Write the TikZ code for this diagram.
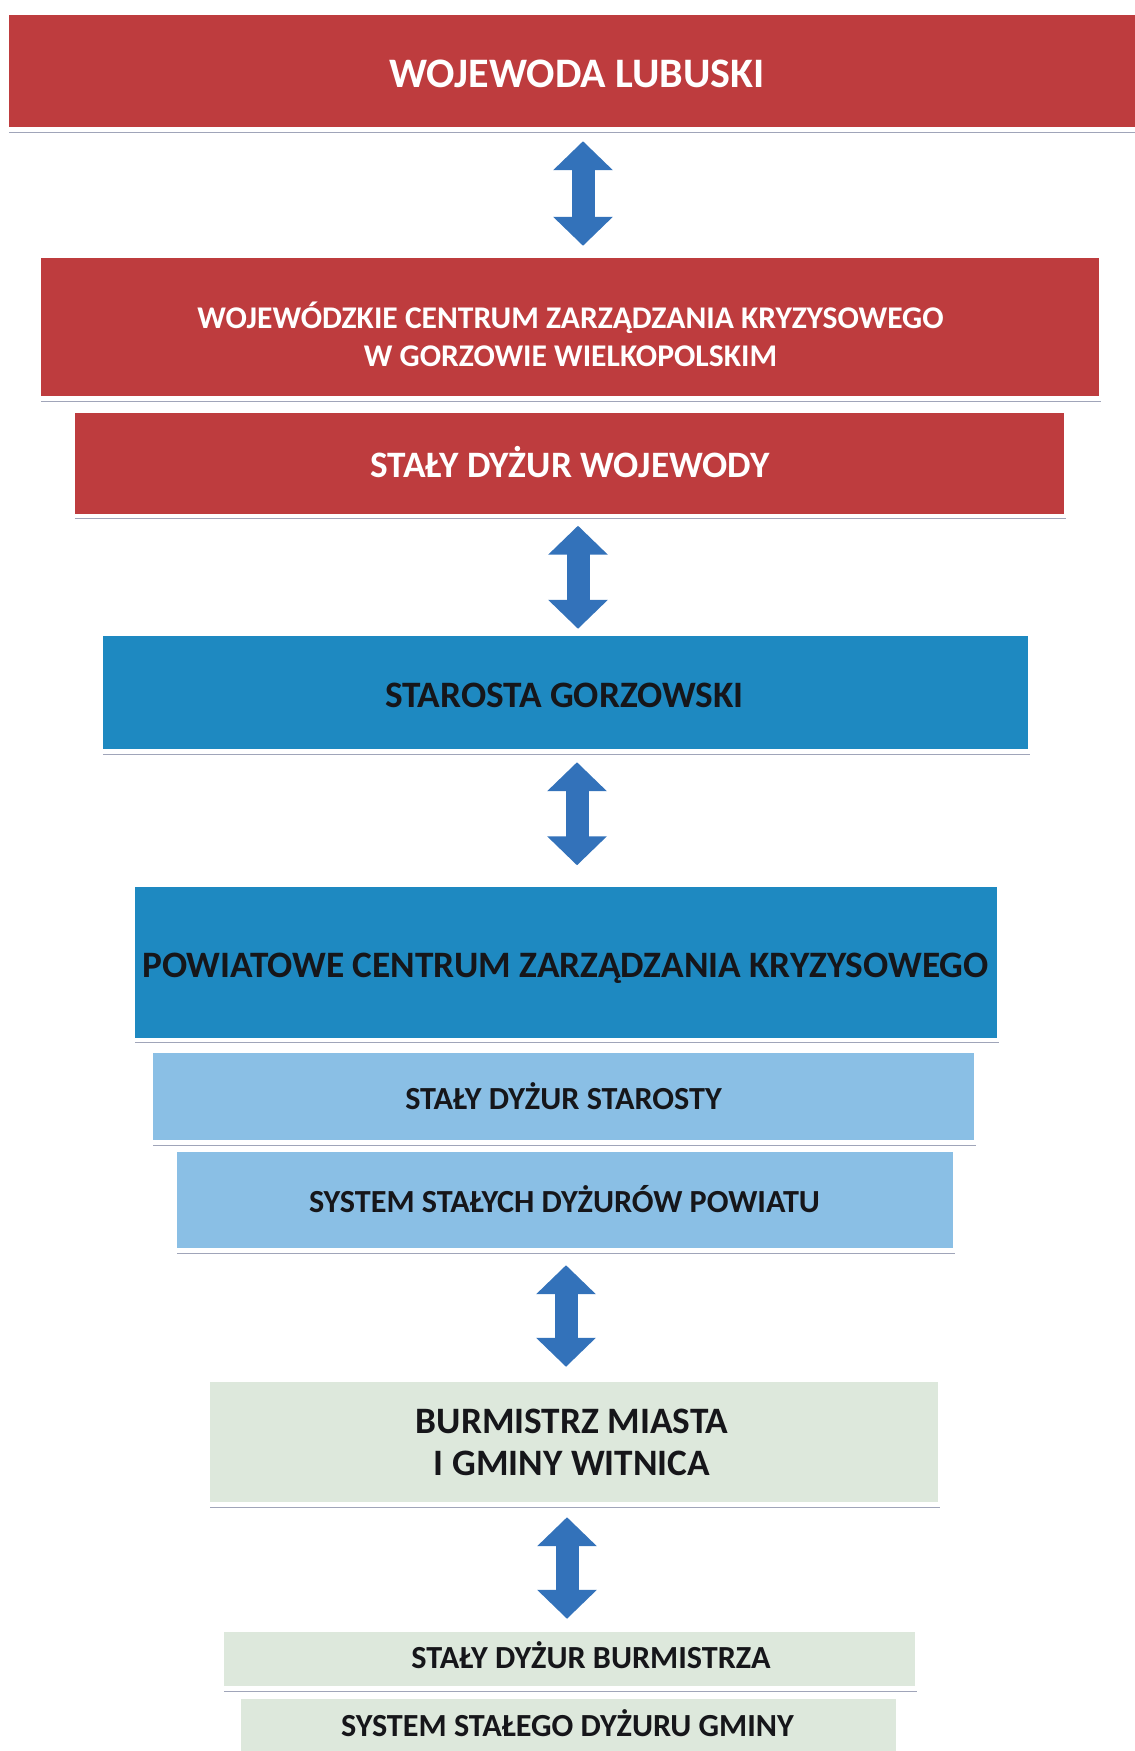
\documentclass[tikz,border=0pt]{standalone}
\usepackage{fontspec}
\setmainfont{Carlito}
\usetikzlibrary{arrows.meta}
\definecolor{cred}{RGB}{190,60,62}
\definecolor{cblue}{RGB}{30,137,193}
\definecolor{clblue}{RGB}{138,191,229}
\definecolor{cgreen}{RGB}{221,232,220}
\definecolor{carrow}{RGB}{51,114,186}
\definecolor{cshadow}{RGB}{160,165,185}
\definecolor{cdark}{RGB}{22,22,26}
\tikzset{
  box/.style={draw=none, inner sep=0pt, rectangle},
  redbox/.style={box, fill=cred},
  bluebox/.style={box, fill=cblue},
  lbluebox/.style={box, fill=clblue},
  greenbox/.style={box, fill=cgreen},
  txt/.style={anchor=base, inner sep=0pt, font=\bfseries},
  wtxt/.style={txt, text=white},
  dtxt/.style={txt, text=cdark},
  big/.style={font=\fontsize{42}{48}\bfseries\selectfont},
  mid/.style={font=\fontsize{37.3}{43}\bfseries\selectfont},
  sml/.style={font=\fontsize{32.2}{38}\bfseries\selectfont},
  shadowline/.style={draw=cshadow, line width=1.3pt},
  biarrow/.style={draw=carrow, line width=23pt,
    {Triangle[width=58pt,length=29pt]}-{Triangle[width=58pt,length=29pt]}},
}
\begin{document}
\begin{tikzpicture}[x=1pt,y=-1pt]
\useasboundingbox (0,0) rectangle (1135,1751);
% boxes
\node[redbox, minimum width=1126pt, minimum height=112pt] (b1) at (572,71) {};
\node[redbox, minimum width=1058pt, minimum height=138pt] (b2) at (570,327) {};
\node[redbox, minimum width=989pt, minimum height=101pt] (b3) at (569.5,463) {};
\node[bluebox, minimum width=925pt, minimum height=113pt] (b4) at (565.5,692.5) {};
\node[bluebox, minimum width=862pt, minimum height=151pt] (b5) at (566,962) {};
\node[lbluebox, minimum width=821pt, minimum height=87pt] (b6) at (563.5,1096.5) {};
\node[lbluebox, minimum width=776pt, minimum height=96pt] (b7) at (565,1200) {};
\node[greenbox, minimum width=728pt, minimum height=120pt] (b8) at (574,1442) {};
\node[greenbox, minimum width=691pt, minimum height=54pt] (b9) at (569.5,1659) {};
\node[greenbox, minimum width=655pt, minimum height=60pt] (b10) at (568.5,1729) {};
% shadow lines under boxes
\foreach \b in {b1,b2,b3,b4,b5,b6,b7,b8,b9}{
  \draw[shadowline] ([yshift=-5pt]\b.south west) -- ([yshift=-5pt,xshift=2pt]\b.south east);
}
% texts
\node[wtxt, big] (t1) at (577,87.5) {WOJEWODA LUBUSKI};
\node[wtxt, font=\fontsize{31.6}{37}\bfseries\selectfont] (t2a) at (570.5,328.7) {WOJEWÓDZKIE CENTRUM ZARZĄDZANIA KRYZYSOWEGO};
\node[wtxt, font=\fontsize{31.6}{37}\bfseries\selectfont] (t2b) at (570.5,366.2) {W GORZOWIE WIELKOPOLSKIM};
\node[wtxt, mid] (t3) at (570,477) {STAŁY DYŻUR WOJEWODY};
\node[dtxt, mid] (t4) at (564.5,707) {STAROSTA GORZOWSKI};
\node[dtxt, mid] (t5) at (565.5,977) {POWIATOWE CENTRUM ZARZĄDZANIA KRYZYSOWEGO};
\node[dtxt, sml] (t6) at (563.5,1109.4) {STAŁY DYŻUR STAROSTY};
\node[dtxt, sml] (t7) at (564.5,1212.4) {SYSTEM STAŁYCH DYŻURÓW POWIATU};
\node[dtxt, mid] (t8a) at (572,1433) {BURMISTRZ MIASTA};
\node[dtxt, mid] (t8b) at (572,1475) {I GMINY WITNICA};
\node[dtxt, sml] (t9) at (591,1668.4) {STAŁY DYŻUR BURMISTRZA};
\node[dtxt, sml] (t10) at (567.5,1736.9) {SYSTEM STAŁEGO DYŻURU GMINY};
% arrow axes
\coordinate (ax1) at (583,0);
\coordinate (ax2) at (578,0);
\coordinate (ax3) at (577,0);
\coordinate (ax4) at (566,0);
\coordinate (ax5) at (567,0);
% arrows
\draw[biarrow, shorten <=14pt, shorten >=12pt] (b1.south -| ax1) -- (b2.north -| ax1);
\draw[biarrow, shorten <=12pt, shorten >=7pt] (b3.south -| ax2) -- (b4.north -| ax2);
\draw[biarrow, shorten <=13pt, shorten >=21pt] (b4.south -| ax3) -- (b5.north -| ax3);
\draw[biarrow, shorten <=17pt, shorten >=15pt] (b7.south -| ax4) -- (b8.north -| ax4);
\draw[biarrow, shorten <=15pt, shorten >=13pt] (b8.south -| ax5) -- (b9.north -| ax5);
\end{tikzpicture}
\end{document}
